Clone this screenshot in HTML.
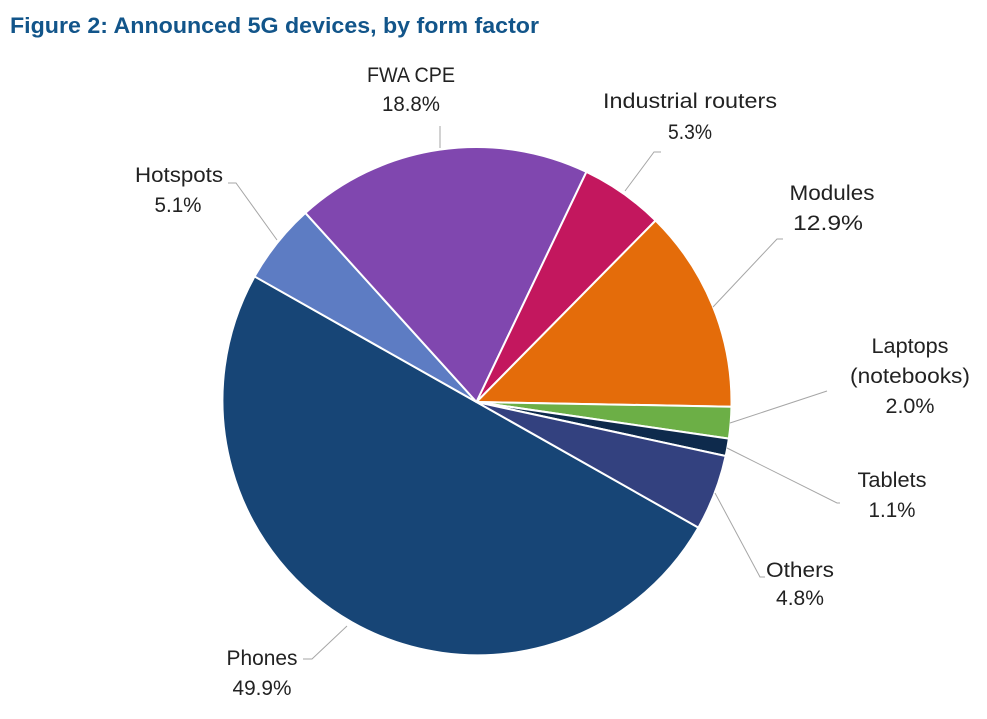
<!DOCTYPE html>
<html>
<head>
<meta charset="utf-8">
<style>
  html,body{margin:0;padding:0;background:#ffffff;}
  body{width:987px;height:719px;overflow:hidden;}
  svg{display:block;}
  .lbl{font-family:"Liberation Sans",Arial,sans-serif;font-size:21px;fill:#222222;}
  .ttl{font-family:"Liberation Sans",Arial,sans-serif;font-size:22px;font-weight:bold;fill:#12558a;}
  .ld{stroke:#a6a6a6;stroke-width:1;fill:none;}
</style>
</head>
<body>
<svg width="987" height="719" viewBox="0 0 987 719" xmlns="http://www.w3.org/2000/svg">
  <rect x="0" y="0" width="987" height="719" fill="#ffffff"/>
  <text class="ttl" x="10" y="33" textLength="529" lengthAdjust="spacingAndGlyphs">Figure 2: Announced 5G devices, by form factor</text>

  <g stroke="#ffffff" stroke-width="2" stroke-linejoin="round">
    <path d="M476.5,402 L698.4,527.6 A255,255 0 0 1 254.55,276.44 Z" fill="#174576"/>
    <path d="M476.5,402 L254.55,276.44 A255,255 0 0 1 305.4,212.9 Z" fill="#5d7cc3"/>
    <path d="M476.5,402 L305.4,212.9 A255,255 0 0 1 586.4,171.9 Z" fill="#8047af"/>
    <path d="M476.5,402 L586.4,171.9 A255,255 0 0 1 655.6,220.5 Z" fill="#c3175e"/>
    <path d="M476.5,402 L655.6,220.5 A255,255 0 0 1 731.46,406.7 Z" fill="#e46c0a"/>
    <path d="M476.5,402 L731.46,406.7 A255,255 0 0 1 728.86,438.6 Z" fill="#6caf46"/>
    <path d="M476.5,402 L728.86,438.6 A255,255 0 0 1 725.7,456.0 Z" fill="#0e2a4c"/>
    <path d="M476.5,402 L725.7,456.0 A255,255 0 0 1 698.4,527.6 Z" fill="#33417f"/>
  </g>

  <polyline class="ld" points="440,148 440,126"/>
  <polyline class="ld" points="625,191 654,152 661,152"/>
  <polyline class="ld" points="713,307 777,239 783,239"/>
  <polyline class="ld" points="730,423 827,391"/>
  <polyline class="ld" points="727,448 837,503 840,503"/>
  <polyline class="ld" points="715,493 760,577 765,577"/>
  <polyline class="ld" points="277,240 236,183 228,183"/>
  <polyline class="ld" points="347,626 312,659 303,659"/>

  <g text-anchor="middle">
    <text class="lbl" x="411" y="82" textLength="88" lengthAdjust="spacingAndGlyphs">FWA CPE</text>
    <text class="lbl" x="411" y="111" textLength="58" lengthAdjust="spacingAndGlyphs">18.8%</text>

    <text class="lbl" x="690" y="108" textLength="174" lengthAdjust="spacingAndGlyphs">Industrial routers</text>
    <text class="lbl" x="690" y="139" textLength="44" lengthAdjust="spacingAndGlyphs">5.3%</text>

    <text class="lbl" x="832" y="200" textLength="85" lengthAdjust="spacingAndGlyphs">Modules</text>
    <text class="lbl" x="828" y="230" textLength="70" lengthAdjust="spacingAndGlyphs">12.9%</text>

    <text class="lbl" x="910" y="353" textLength="77" lengthAdjust="spacingAndGlyphs">Laptops</text>
    <text class="lbl" x="910" y="383" textLength="120" lengthAdjust="spacingAndGlyphs">(notebooks)</text>
    <text class="lbl" x="910" y="413" textLength="49" lengthAdjust="spacingAndGlyphs">2.0%</text>

    <text class="lbl" x="892" y="487" textLength="69" lengthAdjust="spacingAndGlyphs">Tablets</text>
    <text class="lbl" x="892" y="517" textLength="47" lengthAdjust="spacingAndGlyphs">1.1%</text>

    <text class="lbl" x="800" y="577" textLength="68" lengthAdjust="spacingAndGlyphs">Others</text>
    <text class="lbl" x="800" y="605" textLength="48" lengthAdjust="spacingAndGlyphs">4.8%</text>

    <text class="lbl" x="179" y="182" textLength="88" lengthAdjust="spacingAndGlyphs">Hotspots</text>
    <text class="lbl" x="178" y="212" textLength="47" lengthAdjust="spacingAndGlyphs">5.1%</text>

    <text class="lbl" x="262" y="665" textLength="71" lengthAdjust="spacingAndGlyphs">Phones</text>
    <text class="lbl" x="262" y="695" textLength="59" lengthAdjust="spacingAndGlyphs">49.9%</text>
  </g>
</svg>
</body>
</html>
